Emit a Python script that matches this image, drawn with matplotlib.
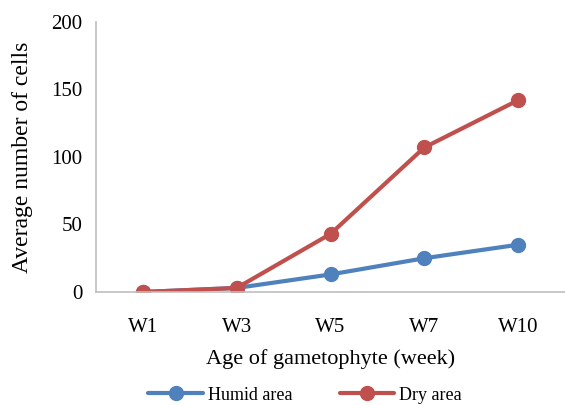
import matplotlib.pyplot as plt
import numpy as np

# Data
weeks = ["W1", "W3", "W5", "W7", "W10"]
humid_area = [0, 3, 13, 25, 35]
dry_area = [0, 3, 43, 107, 142]

plt.rcParams["font.family"] = ["Liberation Serif", "DejaVu Serif"]
plt.rcParams["font.size"] = 14

fig = plt.figure(figsize=(5.65, 4.05), dpi=100)
ax = fig.add_axes([0.170, 0.279, 0.830, 0.667])

x = np.arange(len(weeks))
ax.plot(x, humid_area, color="#4F81BD", lw=3, marker="o", ms=10, label="Humid area", solid_capstyle="round")
ax.plot(x, dry_area, color="#C0504D", lw=3, marker="o", ms=10, label="Dry area", solid_capstyle="round")

ax.set_xlim(-0.5, len(weeks) - 0.5)
ax.set_ylim(0, 200)
ax.set_yticks([0, 50, 100, 150, 200])
ax.set_xticks(x, weeks)
ax.tick_params(length=0, labelsize=15)
ax.tick_params(axis="y", pad=10)
ax.tick_params(axis="x", pad=19)
for side in ["top", "right"]:
    ax.spines[side].set_visible(False)
for side in ["left", "bottom"]:
    ax.spines[side].set_color("#BFBFBF")
    ax.spines[side].set_linewidth(1.2)

ax.set_xlabel("Age of gametophyte (week)", fontsize=16)
ax.set_ylabel("Average number of cells", fontsize=17)
ax.yaxis.set_label_coords(-0.134, 0.5)
ax.xaxis.set_label_coords(0.5, -0.212)

fig.legend(loc="center", bbox_to_anchor=(0.54, 0.024), ncol=2, frameon=False,
           fontsize=13, handlelength=3, columnspacing=2.6, handletextpad=0.3)

fig.savefig("out.png", dpi=100)
